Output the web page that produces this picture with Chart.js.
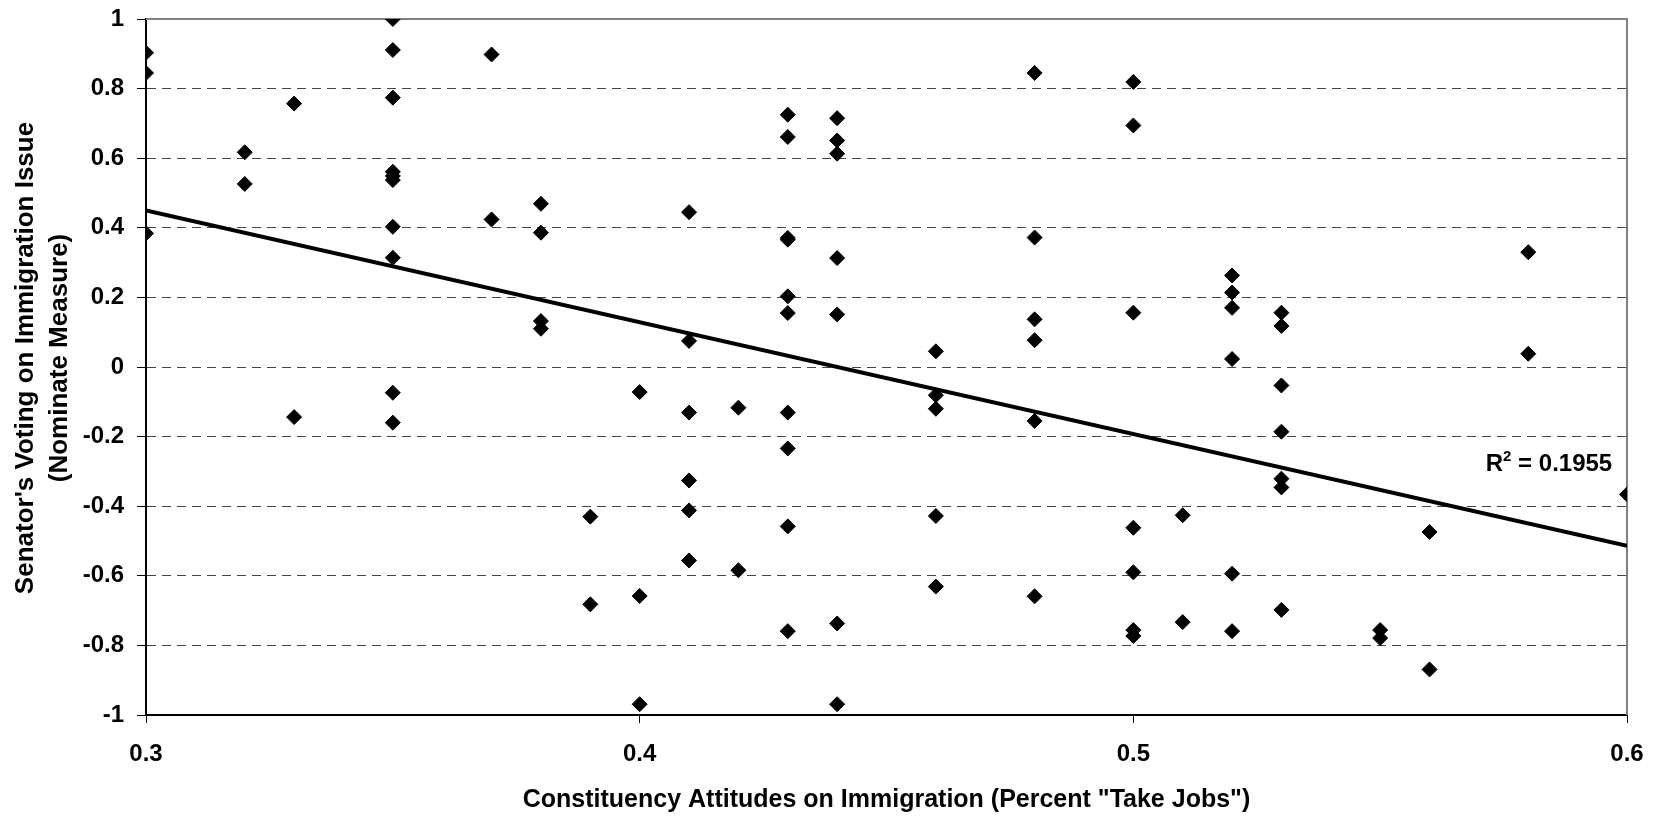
<!DOCTYPE html>
<html>
<head>
<meta charset="utf-8">
<script src="https://cdn.jsdelivr.net/npm/chart.js@4.4.1/dist/chart.umd.min.js"></script>
<style>
  html, body { margin: 0; padding: 0; background: #fff; }
  #wrap { width: 1659px; height: 818px; }
</style>
</head>
<body>
<div id="wrap"><canvas id="scatterChart"></canvas></div>
<script>
// Constituency attitudes (share saying immigrants "take jobs") per senator
const attitudes = [
  0.30, 0.30, 0.30,
  0.32, 0.32,
  0.33, 0.33,
  0.35, 0.35, 0.35, 0.35, 0.35, 0.35, 0.35, 0.35, 0.35, 0.35,
  0.37, 0.37,
  0.38, 0.38, 0.38, 0.38,
  0.39, 0.39,
  0.40, 0.40, 0.40,
  0.41, 0.41, 0.41, 0.41, 0.41, 0.41,
  0.42, 0.42,
  0.43, 0.43, 0.43, 0.43, 0.43, 0.43, 0.43, 0.43, 0.43, 0.43,
  0.44, 0.44, 0.44, 0.44, 0.44, 0.44, 0.44,
  0.46, 0.46, 0.46, 0.46, 0.46,
  0.48, 0.48, 0.48, 0.48, 0.48, 0.48,
  0.50, 0.50, 0.50, 0.50, 0.50, 0.50, 0.50,
  0.51, 0.51,
  0.52, 0.52, 0.52, 0.52, 0.52, 0.52,
  0.53, 0.53, 0.53, 0.53, 0.53, 0.53, 0.53,
  0.55, 0.55,
  0.56, 0.56,
  0.58, 0.58,
  0.60
];

// Senator's voting on immigration (Nominate measure), same order
const votes = [
  0.903, 0.845, 0.384,
  0.617, 0.526,
  0.757, -0.144,
  1.000, 0.911, 0.774, 0.561, 0.549, 0.537, 0.403, 0.314, -0.074, -0.160,
  0.898, 0.424,
  0.469, 0.386, 0.132, 0.110,
  -0.430, -0.682,
  -0.072, -0.658, -0.969,
  0.445, 0.075, -0.131, -0.326, -0.412, -0.556,
  -0.117, -0.584,
  0.725, 0.661, 0.371, 0.366, 0.203, 0.155, -0.131, -0.234, -0.458, -0.759,
  0.715, 0.651, 0.613, 0.313, 0.151, -0.737, -0.969,
  0.045, -0.081, -0.120, -0.428, -0.631,
  0.845, 0.372, 0.137, 0.077, -0.155, -0.659,
  0.819, 0.694, 0.156, -0.462, -0.590, -0.756, -0.773,
  -0.426, -0.733,
  0.263, 0.214, 0.170, 0.023, -0.594, -0.759,
  0.156, 0.118, -0.053, -0.186, -0.321, -0.346, -0.698,
  -0.756, -0.779,
  -0.474, -0.869,
  0.330, 0.038,
  -0.366
];

// linear trendline end points
const trendX = [0.3, 0.6];
const trendY = [0.45, -0.514];
const rSquared = '0.1955';

const xTickValues = [0.3, 0.4, 0.5, 0.6];
const xTickLabels = ['0.3', '0.4', '0.5', '0.6'];
const yTickValues = [-1, -0.8, -0.6, -0.4, -0.2, 0, 0.2, 0.4, 0.6, 0.8, 1];
const yTickLabels = ['-1', '-0.8', '-0.6', '-0.4', '-0.2', '0', '0.2', '0.4', '0.6', '0.8', '1'];
const yTitleLines = ["Senator's Voting on Immigration Issue", '(Nominate Measure)'];

const FONT = "'Liberation Sans', Arial, sans-serif";

// top/right frame, two-line y title and the R² label
const framePlugin = {
  id: 'frame',
  beforeDatasetsDraw(chart) {
    const { ctx, chartArea: a } = chart;
    ctx.save();
    ctx.strokeStyle = '#808080';
    ctx.lineWidth = 2;
    ctx.beginPath();
    ctx.moveTo(a.left, a.top);
    ctx.lineTo(a.right, a.top);
    ctx.lineTo(a.right, a.bottom);
    ctx.stroke();

    // y title
    ctx.fillStyle = '#000';
    ctx.font = 'bold 26px ' + FONT;
    ctx.textAlign = 'center';
    ctx.textBaseline = 'middle';
    ctx.translate(26, 358);
    ctx.rotate(-Math.PI / 2);
    yTitleLines.forEach((line, i) => ctx.fillText(line, 0, i * 34));
    ctx.restore();
  },
  afterDatasetsDraw(chart) {
    const { ctx } = chart;
    const x = chart.scales.x.getPixelForValue(0.597);
    const y = chart.scales.y.getPixelForValue(-0.281);
    ctx.save();
    ctx.fillStyle = '#000';
    ctx.textBaseline = 'middle';
    ctx.textAlign = 'left';
    ctx.font = 'bold 24px ' + FONT;
    const rest = ' = ' + rSquared;
    const wR = ctx.measureText('R').width;
    const wRest = ctx.measureText(rest).width;
    ctx.font = 'bold 15px ' + FONT;
    const w2 = ctx.measureText('2').width;
    const sx = x - (wR + w2 + wRest);
    ctx.font = 'bold 24px ' + FONT;
    ctx.fillText('R', sx, y);
    ctx.font = 'bold 15px ' + FONT;
    ctx.fillText('2', sx + wR, y - 8);
    ctx.font = 'bold 24px ' + FONT;
    ctx.fillText(rest, sx + wR + w2, y);
    ctx.restore();
  }
};

const ctx = document.getElementById('scatterChart').getContext('2d');
new Chart(ctx, {
  type: 'scatter',
  data: {
    datasets: [
      {
        type: 'line',
        label: 'Trend',
        data: trendX.map((x, i) => ({ x: x, y: trendY[i] })),
        borderColor: '#000',
        borderWidth: 4,
        pointRadius: 0,
        fill: false,
        order: 0
      },
      {
        label: 'Senators',
        data: attitudes.map((x, i) => ({ x: x, y: votes[i] })),
        pointStyle: 'rectRot',
        pointRadius: 7.5,
        pointBackgroundColor: '#000',
        pointBorderColor: '#000',
        pointBorderWidth: 1,
        order: 1
      }
    ]
  },
  options: {
    responsive: true,
    maintainAspectRatio: false,
    animation: false,
    events: [],
    layout: { padding: { left: 4, top: 19, right: 32, bottom: 0 } },
    plugins: {
      legend: { display: false },
      tooltip: { enabled: false }
    },
    scales: {
      x: {
        type: 'linear',
        min: 0.3,
        max: 0.6,
        afterBuildTicks: s => { s.ticks = xTickValues.map(v => ({ value: v })); },
        afterFit: s => { s.height = 103; s.paddingLeft = 0; s.paddingRight = 0; },
        ticks: {
          callback: (v, i) => xTickLabels[i],
          color: '#000',
          padding: 17,
          maxRotation: 0,
          font: { family: FONT, size: 24, weight: 'bold' }
        },
        grid: {
          drawOnChartArea: false,
          drawTicks: true,
          tickLength: 8,
          tickColor: '#000',
          tickWidth: 1
        },
        border: { color: '#000', width: 2 },
        title: {
          display: true,
          text: 'Constituency Attitudes on Immigration (Percent "Take Jobs")',
          color: '#000',
          padding: { top: 0, bottom: 3 },
          font: { family: FONT, size: 25, weight: 'bold' }
        }
      },
      y: {
        type: 'linear',
        min: -1,
        max: 1,
        afterBuildTicks: s => { s.ticks = yTickValues.map(v => ({ value: v })); },
        afterFit: s => { s.width = 142; s.paddingTop = 0; s.paddingBottom = 0; },
        ticks: {
          callback: (v, i) => yTickLabels[i],
          color: '#000',
          padding: 13,
          font: { family: FONT, size: 24, weight: 'bold' }
        },
        grid: {
          drawTicks: true,
          tickLength: 9,
          tickColor: '#000',
          tickWidth: 1,
          lineWidth: 1,
          color: c => (c.tick && (c.tick.value === 1 || c.tick.value === -1)) ? 'rgba(0,0,0,0)' : '#444'
        },
        border: { color: '#000', width: 2, dash: [9, 6] }
      }
    }
  },
  plugins: [framePlugin]
});
</script>
</body>
</html>
